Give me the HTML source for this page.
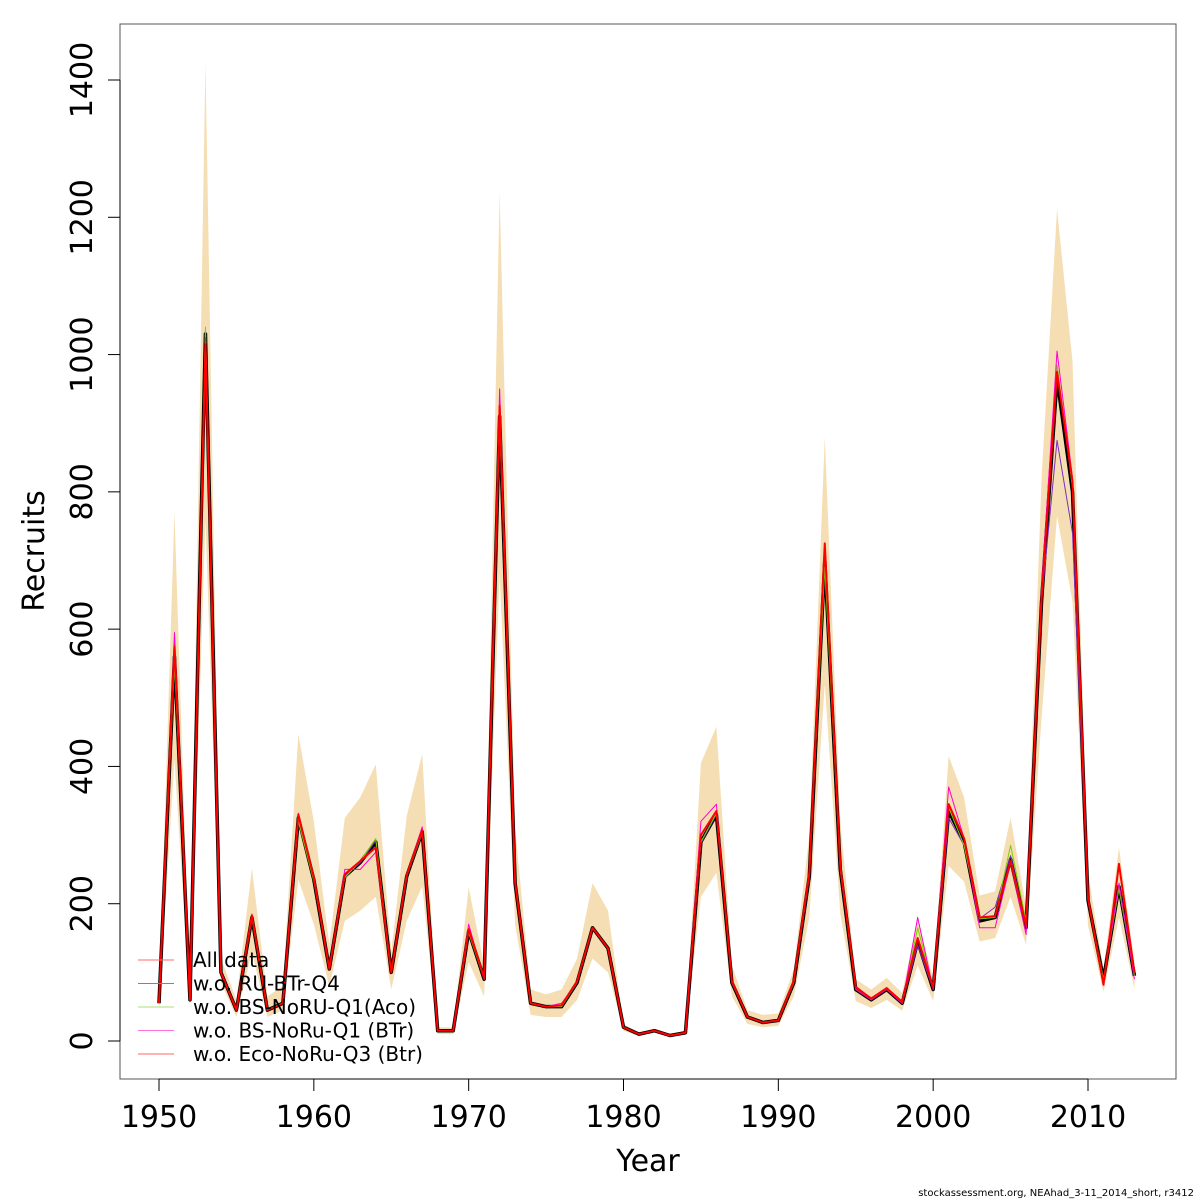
<!DOCTYPE html>
<html><head><meta charset="utf-8"><style>
html,body{margin:0;padding:0;background:#fff;}
svg{display:block;font-family:"DejaVu Sans","Liberation Sans",sans-serif;}
</style></head><body>
<svg id="chart" width="1200" height="1200" viewBox="0 0 1200 1200">
<rect x="0" y="0" width="1200" height="1200" fill="#fff"/>
<g id="band"></g>
<g id="lines"></g>
<rect x="120" y="24" width="1056" height="1055" fill="none" stroke="#555" stroke-width="1"/>
<g id="xaxis"></g>
<g id="yaxis"></g>
<text x="648" y="1171" font-size="30" text-anchor="middle">Year</text>
<text transform="translate(44,551) rotate(-90)" font-size="30" text-anchor="middle">Recruits</text>
<text x="1194" y="1196" font-size="10" text-anchor="end">stockassessment.org, NEAhad_3-11_2014_short, r3412</text>
<g id="legend"></g>
</svg>
<script>
const years = [];
for (let y = 1950; y <= 2013; y++) years.push(y);
const allData = [55,560,60,1030,100,45,180,45,55,325,235,105,240,260,290,100,240,305,15,15,160,90,910,230,55,50,50,85,165,135,20,10,15,8,12,290,330,85,35,27,30,85,240,700,250,75,60,75,55,145,75,335,290,175,180,265,165,640,965,800,205,90,225,95];
const upper = [60,770,70,1425,120,60,252,65,80,447,320,140,325,355,403,130,328,418,20,20,224,110,1237,310,75,68,75,120,230,190,25,12,18,10,15,405,458,110,45,38,40,105,300,880,320,90,75,92,70,180,90,415,355,212,218,325,195,820,1212,990,245,105,282,115];
const lower = [45,410,50,760,85,35,130,35,45,235,170,80,175,190,210,75,175,225,10,10,115,65,680,170,38,35,35,60,120,100,15,7,12,6,9,210,245,65,25,20,22,65,180,520,185,58,48,60,44,110,58,255,232,145,150,210,140,470,765,640,168,72,180,75];
const woRU = [55,555,60,1035,100,45,180,45,55,322,235,105,240,260,292,100,240,305,15,15,160,90,905,230,55,50,50,85,165,135,20,10,15,8,12,288,330,85,35,27,30,85,238,700,248,80,62,75,55,140,75,325,285,178,195,270,168,640,875,740,205,90,228,95];
const woAco = [55,550,60,1040,100,45,178,45,55,320,233,105,238,262,295,100,240,303,15,15,158,90,900,228,55,50,50,85,165,135,20,10,15,8,12,290,332,85,35,27,30,85,242,690,250,75,60,78,55,165,78,340,285,178,180,285,175,650,985,805,205,90,222,95];
const woBTr = [55,595,60,1025,100,45,185,45,55,332,238,105,250,250,275,100,242,312,15,15,170,90,950,232,55,50,55,85,165,135,20,10,15,8,12,320,345,85,35,27,30,90,245,715,255,75,60,75,55,180,75,370,295,165,165,260,155,660,1005,820,205,85,230,90];
const woEco = [55,575,60,1015,100,45,183,45,55,330,238,105,243,262,282,100,242,307,15,15,163,92,925,232,55,50,52,87,165,135,20,10,15,8,12,300,335,87,35,27,30,88,245,725,255,78,62,77,57,150,78,345,295,180,182,262,168,645,975,815,208,82,258,100];
const yTicks = [0,200,400,600,800,1000,1200,1400];
const xTicks = [1950,1960,1970,1980,1990,2000,2010];
const legendLabels = ["All data","w.o. RU-BTr-Q4","w.o. BS-NoRU-Q1(Aco)","w.o. BS-NoRu-Q1 (BTr)","w.o. Eco-NoRu-Q3 (Btr)"];

const NS = "http://www.w3.org/2000/svg";
const xs = v => 159 + (v - 1950) * (1088 - 159) / 60;
const ys = v => 1041 - v * (1041 - 80) / 1400;
function mk(tag, attrs, parent){const e=document.createElementNS(NS,tag);for(const k in attrs)e.setAttribute(k,attrs[k]);parent.appendChild(e);return e;}

const band = document.getElementById('band');
let pts = years.map((y,i)=>xs(y)+","+ys(upper[i]));
for (let i=years.length-1;i>=0;i--) pts.push(xs(years[i])+","+ys(lower[i]));
const poly = mk('polygon',{points:pts.join(' '),fill:'#f5deb3',stroke:'none'},band);



const lines = document.getElementById('lines');
const series = [
  [allData,'#000',3.5,'all-data-line'],
  [woRU,'#7b2fbe',1,'wo-ru-btr-q4-line'],
  [woAco,'#7cd100',1,'wo-bs-noru-q1-aco-line'],
  [woBTr,'#ff00cc',1,'wo-bs-noru-q1-btr-line'],
  [woEco,'#ff0000',2,'wo-eco-noru-q3-line']
];
series.forEach(s=>{
  const p = mk('polyline',{points:years.map((y,i)=>xs(y)+","+ys(s[0][i])).join(' '),fill:'none',stroke:s[1],'stroke-width':s[2],'stroke-linejoin':'round'},lines);
  
  
});

const xa = document.getElementById('xaxis');
const xl = mk('line',{x1:xs(1950),x2:xs(2010),y1:1079,y2:1079,stroke:'#000'},xa);


xTicks.forEach(t=>{
  const tk = mk('line',{x1:xs(t),x2:xs(t),y1:1079,y2:1091,stroke:'#000'},xa);
  
  
  const tx = mk('text',{x:xs(t),y:1127,'font-size':30,'text-anchor':'middle'},xa);
  tx.textContent = t;
  
  
});
const ya = document.getElementById('yaxis');
const yl = mk('line',{x1:120,x2:120,y1:ys(0),y2:ys(1400),stroke:'#000'},ya);


yTicks.forEach(t=>{
  const tk = mk('line',{x1:108,x2:120,y1:ys(t),y2:ys(t),stroke:'#000'},ya);
  
  
  const tx = mk('text',{transform:`translate(92,${ys(t)}) rotate(-90)`,'font-size':30,'text-anchor':'middle'},ya);
  tx.textContent = t;
  
  
});

const lg = document.getElementById('legend');
const lcols = ['#ff6a6a','#9a6ad0','#a8e070','#ff70e0','#ff6a6a'];
legendLabels.forEach((lab,i)=>{
  const yy = 960 + i*23.5;
  const ln = mk('line',{x1:138,x2:174,y1:yy,y2:yy,stroke:lcols[i],'stroke-width':1},lg);
  
  
  const tx = mk('text',{x:193,y:yy+7,'font-size':20},lg);
  tx.textContent = lab;
  
  
});
</script>
</body></html>
